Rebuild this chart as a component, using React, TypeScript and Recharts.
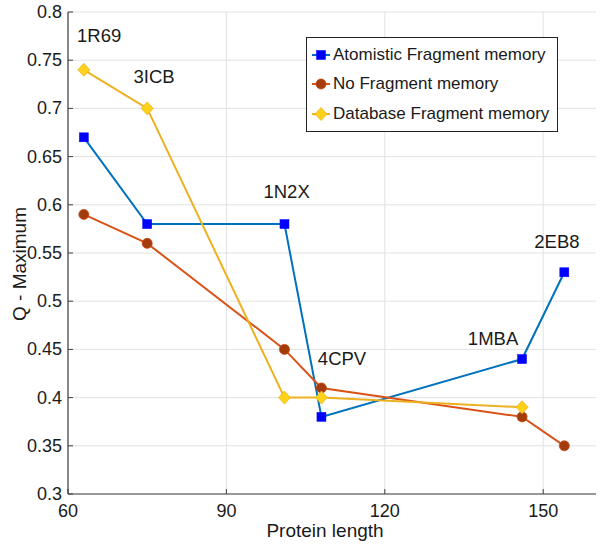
import React from 'react';
import { LineChart, Line, XAxis, YAxis, CartesianGrid, ReferenceDot } from 'recharts';

const proteinLength = [63, 75, 101, 108, 146, 154];
const atomisticQ = [0.67, 0.58, 0.58, 0.38, 0.44, 0.53];
const noFragmentQ = [0.59, 0.56, 0.45, 0.41, 0.38, 0.35];
const databaseQ: (number | null)[] = [0.74, 0.7, 0.4, 0.4, 0.39, null];

const proteinNames = ['1R69', '3ICB', '1N2X', '4CPV', '1MBA', '2EB8'];
const nameX = [65.9, 76.3, 101.4, 111.9, 140.5, 152.6];
const nameY = [0.776, 0.733, 0.614, 0.441, 0.461, 0.562];

const xTicks = [60, 90, 120, 150];
const yTicks = [0.3, 0.35, 0.4, 0.45, 0.5, 0.55, 0.6, 0.65, 0.7, 0.75, 0.8];

const seriesNames = ['Atomistic Fragment memory', 'No Fragment memory', 'Database Fragment memory'];

const data = proteinLength.map((x, i) => ({
  x,
  atomistic: atomisticQ[i],
  noFragment: noFragmentQ[i],
  database: databaseQ[i],
}));

const FONT = '"Liberation Sans", Arial, Helvetica, sans-serif';
const AXIS = '#404040';
const TXT = '#1a1a1a';
const BLUE = '#0072BD';
const ORANGE = '#D95319';
const YELLOW = '#EDB120';

const squareMarker = (cx: number, cy: number, key?: any) => (
  <rect key={key} x={cx - 4.5} y={cy - 4.5} width={9} height={9} fill="#0000FF" stroke="#0000FF" strokeWidth={0.5} />
);
const circleMarker = (cx: number, cy: number, key?: any) => (
  <circle key={key} cx={cx} cy={cy} r={5} fill="#A33B0B" stroke="#C4460F" strokeWidth={0.8} />
);
const diamondMarker = (cx: number, cy: number, key?: any) => (
  <path key={key} d={`M${cx},${cy - 6.5} L${cx + 6},${cy} L${cx},${cy + 6.5} L${cx - 6},${cy} Z`} fill="#FFD21A" stroke={YELLOW} strokeWidth={0.8} />
);

const mkDot = (fn: (cx: number, cy: number, key?: any) => any) => (p: any) => {
  if (p.cx == null || p.cy == null || p.value == null || (Array.isArray(p.value) && p.value[1] == null)) return <g key={`e${p.index}`} />;
  return fn(p.cx, p.cy, `d${p.index}`);
};

const BottomTick = (p: any) => (
  <g>
    <line x1={p.x} x2={p.x} y1={p.y} y2={p.y - 5} stroke={AXIS} strokeWidth={1} />
    <text x={p.x} y={p.y + 23} textAnchor="middle" fontSize={18} fontFamily={FONT} fill={TXT}>{p.payload.value}</text>
  </g>
);
const TopTick = (p: any) => (
  <line x1={p.x} x2={p.x} y1={p.y} y2={p.y + 5} stroke={AXIS} strokeWidth={1} />
);
const LeftTick = (p: any) => (
  <g>
    <line x1={p.x} x2={p.x + 5} y1={p.y} y2={p.y} stroke={AXIS} strokeWidth={1} />
    <text x={p.x - 6} y={p.y + 6} textAnchor="end" fontSize={18} fontFamily={FONT} fill={TXT}>{String(p.payload.value)}</text>
  </g>
);
const RightTick = (p: any) => (
  <line x1={p.x} x2={p.x - 5} y1={p.y} y2={p.y} stroke={AXIS} strokeWidth={1} />
);

const markers = [squareMarker, circleMarker, diamondMarker];
const colors = [BLUE, ORANGE, YELLOW];

const LegendBox = () => (
  <div
    style={{
      position: 'absolute',
      left: 306,
      top: 37,
      width: 250,
      height: 93,
      border: '1px solid #222',
      background: '#fff',
      fontFamily: FONT,
      fontSize: 17,
      color: TXT,
      boxSizing: 'content-box',
    }}
  >
    {seriesNames.map((n, i) => (
      <div key={n} style={{ display: 'flex', alignItems: 'center', height: 29.5, marginTop: i === 0 ? 2 : 0 }}>
        <svg width={24} height={16} style={{ marginLeft: 2 }}>
          <line x1={3} x2={21} y1={8} y2={8} stroke={colors[i]} strokeWidth={2} />
          {markers[i](12, 8)}
        </svg>
        <span style={{ whiteSpace: 'nowrap' }}>{n}</span>
      </div>
    ))}
  </div>
);

export default function App() {
  return (
    <div style={{ position: 'absolute', left: 0, top: 0, width: 600, height: 545, background: '#fff' }}>
      <LineChart width={600} height={545} data={data} margin={{ top: 12, right: 4, bottom: 0, left: 0 }}>
        <CartesianGrid stroke="#e2e2e2" strokeWidth={1} horizontalValues={yTicks} verticalValues={xTicks} />
        <XAxis
          xAxisId={0}
          dataKey="x"
          type="number"
          domain={[60, 160]}
          ticks={xTicks}
          height={51}
          tickLine={false}
          tickSize={0}
          tickMargin={0}
          axisLine={{ stroke: AXIS, strokeWidth: 1.2 }}
          tick={<BottomTick />}
          interval={0}
          allowDataOverflow
          label={{
            content: () => (
              <text x={325} y={537} textAnchor="middle" fontSize={19} fontFamily={FONT} fill={TXT}>
                Protein length
              </text>
            ),
          }}
        />
        <XAxis
          xAxisId="top"
          orientation="top"
          dataKey="x"
          type="number"
          domain={[60, 160]}
          ticks={xTicks}
          height={0}
          tickLine={false}
          tickSize={0}
          tickMargin={0}
          axisLine={{ stroke: AXIS, strokeWidth: 1.2 }}
          tick={<TopTick />}
          interval={0}
          allowDataOverflow
        />
        <YAxis
          yAxisId={0}
          type="number"
          domain={[0.3, 0.8]}
          ticks={yTicks}
          width={68}
          tickLine={false}
          tickSize={0}
          tickMargin={0}
          axisLine={{ stroke: AXIS, strokeWidth: 1.2 }}
          tick={<LeftTick />}
          interval={0}
          allowDataOverflow
          label={{
            content: () => (
              <text x={26} y={264} transform="rotate(-90 26 264)" textAnchor="middle" fontSize={19} fontFamily={FONT} fill={TXT}>
                Q - Maximum
              </text>
            ),
          }}
        />
        <YAxis
          yAxisId="right"
          orientation="right"
          type="number"
          domain={[0.3, 0.8]}
          ticks={yTicks}
          width={0}
          tickLine={false}
          tickSize={0}
          tickMargin={0}
          axisLine={{ stroke: AXIS, strokeWidth: 1.2 }}
          tick={<RightTick />}
          interval={0}
          allowDataOverflow
        />
        <Line
          dataKey="atomistic"
          name={seriesNames[0]}
          type="linear"
          stroke={BLUE}
          strokeWidth={2}
          dot={mkDot(squareMarker)}
          activeDot={false}
          isAnimationActive={false}
        />
        <Line
          dataKey="noFragment"
          name={seriesNames[1]}
          type="linear"
          stroke={ORANGE}
          strokeWidth={2}
          dot={mkDot(circleMarker)}
          activeDot={false}
          isAnimationActive={false}
        />
        <Line
          dataKey="database"
          name={seriesNames[2]}
          type="linear"
          stroke={YELLOW}
          strokeWidth={2}
          dot={mkDot(diamondMarker)}
          activeDot={false}
          isAnimationActive={false}
        />
        {proteinNames.map((n, i) => (
          <ReferenceDot
            key={n}
            x={nameX[i]}
            y={nameY[i]}
            r={0}
            fill="none"
            stroke="none"
            ifOverflow="visible"
            label={{
              content: (lp: any) => {
                const vb = lp.viewBox || {};
                const cx = vb.x + (vb.width || 0) / 2;
                const cy = vb.y + (vb.height || 0) / 2;
                return (
                  <text x={cx} y={cy + 6.5} textAnchor="middle" fontSize={18.5} fontFamily={FONT} fill={TXT}>
                    {n}
                  </text>
                );
              },
            }}
          />
        ))}
      </LineChart>
      <LegendBox />
    </div>
  );
}
